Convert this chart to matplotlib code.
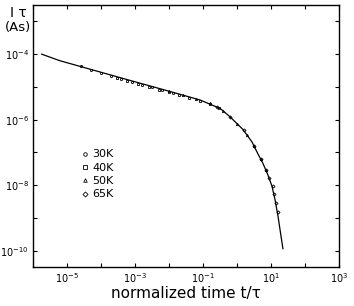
import numpy as np
import matplotlib
matplotlib.use('Agg')
import matplotlib.pyplot as plt

# === Data ===
# fitted master curve
curve_t = [1.8e-6, 6.2e-6, 1e-4, 1.4e-3, 1e-2, 8.1e-2, 0.32, 0.62, 1.5, 2.75,
           4.2, 5.75, 7.9, 10.7, 13.2, 16.2, 22.4]
curve_it = [1.0e-4, 6.3e-5, 2.8e-5, 1.3e-5, 7.4e-6, 4.0e-6, 2.2e-6, 1.23e-6, 5.0e-7, 2.1e-7,
            8.7e-8, 4.7e-8, 2.2e-8, 9.3e-9, 3.5e-9, 1.07e-9, 1.15e-10]

# measured points per temperature
t_30K = [2.5e-5, 5e-5, 1e-4, 2e-4, 4e-4, 8e-4, 1.6e-3, 3.2e-3, 6.3e-3, 1.3e-2]
it_30K = [4.2e-5, 3.4e-5, 2.7e-5, 2.2e-5, 1.8e-5, 1.45e-5, 1.17e-5, 9.8e-6, 8.1e-6, 6.6e-6]

t_40K = [3e-4, 6e-4, 1.2e-3, 2.5e-3, 5e-3, 1e-2, 2e-2, 4e-2, 8e-2, 0.16, 0.3]
it_40K = [1.86e-5, 1.5e-5, 1.23e-5, 1.0e-5, 8.3e-6, 6.8e-6, 5.5e-6, 4.6e-6, 3.7e-6, 2.95e-6, 2.2e-6]

t_50K = [1e-2, 2.5e-2, 6.3e-2, 0.16, 0.4, 1.0, 2.0, 3.2, 5.0, 7.1]
it_50K = [7.4e-6, 5.6e-6, 4.3e-6, 3.2e-6, 1.8e-6, 7.6e-7, 3.4e-7, 1.6e-7, 6.2e-8, 2.9e-8]

t_65K = [0.25, 0.63, 1.6, 3.2, 5.0, 7.1, 8.9, 11.2, 12.6, 14.1, 15.8]
it_65K = [2.4e-6, 1.2e-6, 4.7e-7, 1.6e-7, 6.2e-8, 2.9e-8, 1.6e-8, 9.1e-9, 5.2e-9, 2.9e-9, 1.5e-9]

x_ticks = [1e-6, 1e-5, 1e-4, 1e-3, 1e-2, 1e-1, 1e0, 1e1, 1e2, 1e3]
x_labels = ['', r'$10^{-5}$', '', r'$10^{-3}$', '', r'$10^{-1}$', '', r'$10^{1}$', '', r'$10^{3}$']
y_ticks = [1e-10, 1e-9, 1e-8, 1e-7, 1e-6, 1e-5, 1e-4, 1e-3]
y_labels = [r'$10^{-10}$', '', r'$10^{-8}$', '', r'$10^{-6}$', '', r'$10^{-4}$', '']

# === Figure ===
fig = plt.figure(figsize=(3.54, 3.06), dpi=100)
ax = fig.add_axes([0.0932, 0.1275, 0.8644, 0.856])

ax.plot(curve_t, curve_it, color='black', lw=0.9, zorder=2)

mk = dict(ls='none', color='black', mfc='none', mew=0.6, ms=1.6, zorder=3)
ax.plot(t_30K, it_30K, marker='o', label='30K', **mk)
ax.plot(t_40K, it_40K, marker='s', label='40K', **mk)
ax.plot(t_50K, it_50K, marker='^', label='50K', **mk)
ax.plot(t_65K, it_65K, marker='D', label='65K', **mk)

ax.set_xscale('log')
ax.set_yscale('log')
ax.set_xlim(1e-6, 1e3)
ax.set_ylim(10**-10.5, 10**-2.5)

ax.set_xticks(x_ticks)
ax.set_xticklabels(x_labels)
ax.set_yticks(y_ticks)
ax.set_yticklabels(y_labels)
ax.xaxis.set_minor_locator(matplotlib.ticker.NullLocator())
ax.yaxis.set_minor_locator(matplotlib.ticker.NullLocator())
ax.tick_params(direction='in', top=True, right=True, length=3, width=0.8,
               labelsize=7, pad=3)
for s in ax.spines.values():
    s.set_linewidth(1.0)

ax.set_xlabel('normalized time t/τ', fontsize=11, labelpad=1)

fig.text(18/354, 1 - 13/306, 'I τ', ha='center', va='center', fontsize=10)
fig.text(18/354, 1 - 28/306, '(As)', ha='center', va='center', fontsize=9.5)

ax.legend(loc='upper left', bbox_to_anchor=(0.14, 0.47), frameon=False,
          fontsize=8, handlelength=0.6, handletextpad=0.4, labelspacing=0.3,
          markerscale=1.6, borderpad=0)

fig.savefig('out.png', dpi=100)
